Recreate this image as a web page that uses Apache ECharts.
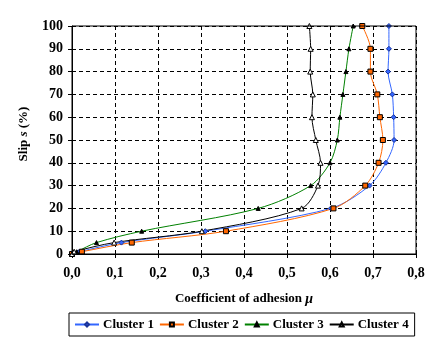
<!DOCTYPE html>
<html>
<head>
<meta charset="utf-8">
<script src="https://cdn.jsdelivr.net/npm/echarts@6/dist/echarts.min.js"></script>
<style>
html,body{margin:0;padding:0;background:#fff;}
#chart{width:442px;height:353px;}
</style>
</head>
<body>
<div id="chart"></div>
<script>
var slip = [0, 1, 5, 10, 20, 30, 40, 50, 60, 70, 80, 90, 100];
var cluster1 = [0, 0.017, 0.115, 0.31, 0.602, 0.692, 0.73, 0.749, 0.748, 0.745, 0.735, 0.737, 0.737];
var cluster2 = [0, 0.023, 0.139, 0.358, 0.608, 0.682, 0.713, 0.723, 0.716, 0.71, 0.694, 0.694, 0.675];
var cluster3 = [0, 0.011, 0.057, 0.162, 0.433, 0.555, 0.6, 0.617, 0.623, 0.63, 0.637, 0.644, 0.654];
var cluster4 = [0, 0.005, 0.098, 0.302, 0.534, 0.572, 0.578, 0.567, 0.558, 0.56, 0.554, 0.555, 0.552];
var seriesNames = ['Cluster 1', 'Cluster 2', 'Cluster 3', 'Cluster 4'];

function pairs(xs) { return xs.map(function (x, i) { return [x, slip[i]]; }); }

var FONT = '"Liberation Serif", "Times New Roman", serif';
var chart = echarts.init(document.getElementById('chart'));

function mk(name, xs, color, symbol, size, fill, border) {
  return {
    name: name, type: 'line', data: pairs(xs), smooth: 0.3,
    symbol: symbol, symbolSize: size,
    lineStyle: { color: color, width: 1 },
    itemStyle: { color: fill, borderColor: border, borderWidth: 1 },
    emphasis: { disabled: true }, z: 3
  };
}

chart.setOption({
  backgroundColor: '#fff',
  animation: false,
  textStyle: { fontFamily: FONT },
  grid: { left: 72, right: 26, top: 26, bottom: 99 },
  xAxis: {
    type: 'value', min: 0, max: 0.8, interval: 0.1,
    name: '{b|Coefficient of adhesion }{i|μ}',
    nameLocation: 'middle', nameGap: 38,
    nameTextStyle: { rich: {
      b: { fontFamily: FONT, fontWeight: 'bold', fontSize: 13, color: '#000' },
      i: { fontFamily: FONT, fontWeight: 'bold', fontStyle: 'italic', fontSize: 14, color: '#000' }
    } },
    axisLine: { show: true, onZero: false, lineStyle: { color: '#000', width: 1 } },
    axisTick: { show: true, length: 4, lineStyle: { color: '#000' } },
    axisLabel: { fontFamily: FONT, fontWeight: 'bold', fontSize: 14, color: '#000', margin: 12,
      formatter: function (v) { return v.toFixed(1).replace('.', ','); } },
    splitLine: { show: true, lineStyle: { color: '#000', type: [4, 3], width: 1 } }
  },
  yAxis: {
    type: 'value', min: 0, max: 100, interval: 10,
    name: '{b|Slip }{i|s}{b| (%)}',
    nameLocation: 'middle', nameGap: 42, nameRotate: 90,
    nameTextStyle: { padding: [0, 0, 0, 12], rich: {
      b: { fontFamily: FONT, fontWeight: 'bold', fontSize: 13, color: '#000' },
      i: { fontFamily: FONT, fontWeight: 'bold', fontStyle: 'italic', fontSize: 13, color: '#000' }
    } },
    axisLine: { show: true, onZero: false, lineStyle: { color: '#000', width: 1 } },
    axisTick: { show: true, length: 4, lineStyle: { color: '#000' } },
    axisLabel: { fontFamily: FONT, fontWeight: 'bold', fontSize: 14, color: '#000', margin: 9 },
    splitLine: { show: true, lineStyle: { color: '#000', type: [4, 3], width: 1 } }
  },
  legend: {
    left: 69, top: 313,
    padding: [5, 6, 5, 5],
    borderColor: '#000', borderWidth: 1, backgroundColor: '#fff',
    itemGap: 5, itemWidth: 24, itemHeight: 5,
    textStyle: { fontFamily: FONT, fontWeight: 'bold', fontSize: 13, color: '#000', padding: [0, 0, 0, -1] },
    data: seriesNames
  },
  graphic: [{
    type: 'rect', shape: { x: 72, y: 26, width: 344, height: 228 },
    style: { fill: null, stroke: '#000', lineWidth: 1 }, z: 10, silent: true
  }],
  series: [
    mk(seriesNames[0], cluster1, '#3366ff', 'diamond', 5, '#3366ff', '#1a3399'),
    mk(seriesNames[1], cluster2, '#ff6600', 'rect', 5, '#ff6600', '#000'),
    mk(seriesNames[2], cluster3, '#008000', 'triangle', 4, '#000', '#000'),
    mk(seriesNames[3], cluster4, '#000', 'triangle', 5, '#fff', '#000')
  ]
});
</script>
</body>
</html>
